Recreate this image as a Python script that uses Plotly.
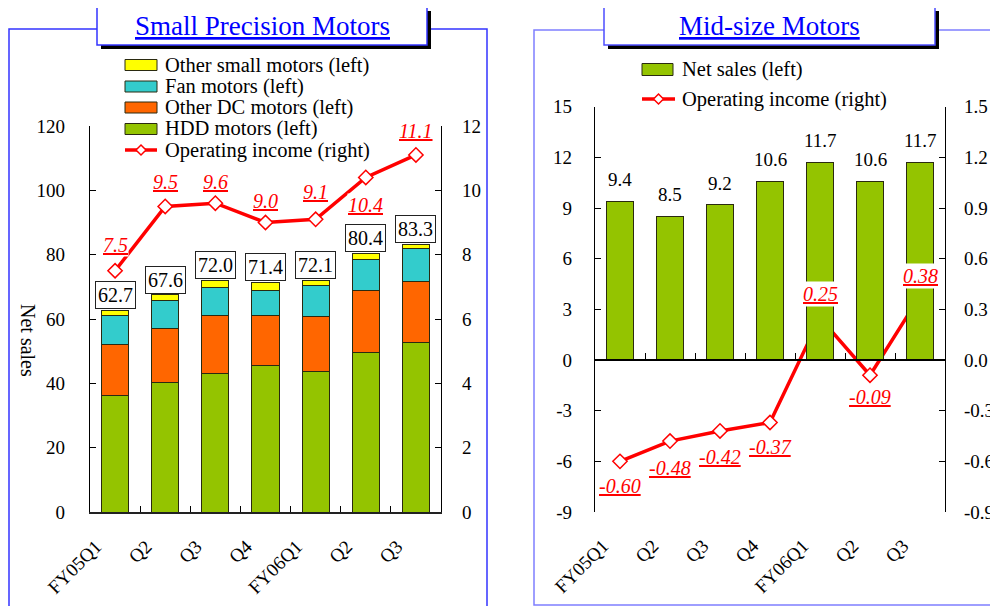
import plotly.graph_objects as go

# ---------------- data ----------------
categories = ["FY05Q1", "Q2", "Q3", "Q4", "FY06Q1", "Q2", "Q3"]
hdd_motors = [36.3, 40.3, 43.1, 45.4, 43.8, 49.5, 52.6]
other_dc_motors = [15.8, 16.8, 18.0, 15.8, 16.9, 19.3, 19.0]
fan_motors = [9.0, 8.7, 8.8, 7.7, 9.7, 9.8, 10.2]
other_small_motors = [1.6, 1.8, 2.1, 2.5, 1.7, 1.8, 1.5]
spm_total = [62.7, 67.6, 72.0, 71.4, 72.1, 80.4, 83.3]
spm_income = [7.5, 9.5, 9.6, 9.0, 9.1, 10.4, 11.1]
spm_income_labels = ["7.5", "9.5", "9.6", "9.0", "9.1", "10.4", "11.1"]

mid_sales = [9.4, 8.5, 9.2, 10.6, 11.7, 10.6, 11.7]
mid_income = [-0.60, -0.48, -0.42, -0.37, 0.25, -0.09, 0.38]
mid_income_labels = ["-0.60", "-0.48", "-0.42", "-0.37", "0.25", "-0.09", "0.38"]

spm_left_ticks = [0, 20, 40, 60, 80, 100, 120]
spm_right_ticks = [0, 2, 4, 6, 8, 10, 12]
mid_left_ticks = [-9, -6, -3, 0, 3, 6, 9, 12, 15]
mid_left_ticktext = ["-9", "-6", "-3", "0", "3", "6", "9", "12", "15"]
mid_right_ticks = [-0.9, -0.6, -0.3, 0.0, 0.3, 0.6, 0.9, 1.2, 1.5]
mid_right_ticktext = ["-0.9", "-0.6", "-0.3", "0.0", "0.3", "0.6", "0.9", "1.2", "1.5"]

# ---------------- helpers ----------------
OFF = 8                      # page body margin
W, H = 998 - OFF, 606 - OFF  # figure size so that it fits the window
FONT = "Liberation Serif, Times New Roman, serif"
idx = list(range(len(categories)))
bounds = [i + 0.5 for i in idx[:-1]]


def X(p):
    return (p - OFF) / W


def Y(p):
    return 1 - (p - OFF) / H


C_YEL = "#FFFF00"
C_CYAN = "#33CCCC"
C_ORANGE = "#FF6600"
C_GREEN = "#94C400"
OUTLINE = dict(color="#2a2a10", width=1)

fig = go.Figure()

# ---------------- left chart ----------------
for vals, name, col in [
    (hdd_motors, "HDD motors (left)", C_GREEN),
    (other_dc_motors, "Other DC motors (left)", C_ORANGE),
    (fan_motors, "Fan motors (left)", C_CYAN),
    (other_small_motors, "Other small motors (left)", C_YEL),
]:
    fig.add_trace(go.Bar(x=idx, y=vals, name=name, xaxis="x", yaxis="y",
                         marker=dict(color=col, line=OUTLINE), width=0.54,
                         showlegend=False))

fig.add_trace(go.Scatter(x=idx, y=spm_income, xaxis="x", yaxis="y2",
                         mode="lines+markers", name="Operating income (right)",
                         line=dict(color="#FF0000", width=3.5),
                         marker=dict(symbol="diamond", size=11, color="white",
                                     line=dict(color="#FF0000", width=1.5)),
                         cliponaxis=False, showlegend=False))

# ---------------- right chart ----------------
fig.add_trace(go.Bar(x=idx, y=mid_sales, name="Net sales (left)", xaxis="x4", yaxis="y3",
                     marker=dict(color=C_GREEN, line=OUTLINE), width=0.54,
                     showlegend=False))
fig.add_trace(go.Scatter(x=idx, y=mid_income, xaxis="x3", yaxis="y4",
                         mode="lines+markers", name="Operating income (right)",
                         line=dict(color="#FF0000", width=3.5),
                         marker=dict(symbol="diamond", size=11, color="white",
                                     line=dict(color="#FF0000", width=1.5)),
                         cliponaxis=False, showlegend=False))

tickfont = dict(family=FONT, size=19, color="black")
common_y = dict(ticks="inside", ticklen=6, tickcolor="black", showline=True,
                linecolor="black", linewidth=1.2, showgrid=False, zeroline=False,
                tickfont=tickfont, automargin=False)

annotations = []
shapes = []

# panel borders
shapes.append(dict(type="rect", xref="paper", yref="paper", x0=X(9), x1=X(487),
                   y0=Y(620), y1=Y(29), line=dict(color="#3333FF", width=1.5),
                   layer="below"))
shapes.append(dict(type="rect", xref="paper", yref="paper", x0=X(534), x1=X(1010),
                   y0=Y(605), y1=Y(30), line=dict(color="#7F7FFF", width=1.5),
                   layer="below"))

# title boxes
for (x0, x1, title, bcol) in [(97, 427, "Small Precision Motors", "#3333FF"),
                              (604, 935, "Mid-size Motors", "#4D4DFF")]:
    shapes.append(dict(type="rect", xref="paper", yref="paper", x0=X(x0 + 4), x1=X(x1 + 4),
                       y0=Y(49), y1=Y(11), fillcolor="black", line=dict(width=0),
                       layer="above"))
    shapes.append(dict(type="rect", xref="paper", yref="paper", x0=X(x0), x1=X(x1),
                       y0=Y(45), y1=Y(7), fillcolor="white",
                       line=dict(color=bcol, width=1.5), layer="above"))
    annotations.append(dict(xref="paper", yref="paper", x=X((x0 + x1) / 2), y=Y(26),
                            text="<u>" + title + "</u>", showarrow=False,
                            font=dict(family=FONT, size=27, color="#0000FF"),
                            xanchor="center", yanchor="middle"))

# left legend
leg_left = [("Other small motors (left)", C_YEL, 65),
            ("Fan motors (left)", C_CYAN, 86.5),
            ("Other DC motors (left)", C_ORANGE, 107.5),
            ("HDD motors (left)", C_GREEN, 129)]
for text, col, yc in leg_left:
    shapes.append(dict(type="rect", xref="paper", yref="paper", x0=X(125), x1=X(157),
                       y0=Y(yc + 5.5), y1=Y(yc - 5.5), fillcolor=col,
                       line=dict(color="#2a2a10", width=1), layer="above"))
    annotations.append(dict(xref="paper", yref="paper", x=X(163), y=Y(yc), text=text,
                            showarrow=False, xanchor="left", yanchor="middle",
                            font=dict(family=FONT, size=20.5, color="black")))


def line_symbol(xa, xb, yc):
    xm = (xa + xb) / 2
    shapes.append(dict(type="line", xref="paper", yref="paper", x0=X(xa), x1=X(xb),
                       y0=Y(yc), y1=Y(yc), line=dict(color="#FF0000", width=3.5),
                       layer="above"))
    d = 5
    path = (f"M {X(xm - d)} {Y(yc)} L {X(xm)} {Y(yc - d)} L {X(xm + d)} {Y(yc)} "
            f"L {X(xm)} {Y(yc + d)} Z")
    shapes.append(dict(type="path", xref="paper", yref="paper", path=path,
                       fillcolor="white", line=dict(color="#FF0000", width=1.5),
                       layer="above"))


line_symbol(125, 157, 150)
annotations.append(dict(xref="paper", yref="paper", x=X(163), y=Y(150),
                        text="Operating income (right)", showarrow=False,
                        xanchor="left", yanchor="middle",
                        font=dict(family=FONT, size=20.5, color="black")))

# right legend
shapes.append(dict(type="rect", xref="paper", yref="paper", x0=X(642), x1=X(673),
                   y0=Y(75.5), y1=Y(63.5), fillcolor=C_GREEN,
                   line=dict(color="#2a2a10", width=1), layer="above"))
annotations.append(dict(xref="paper", yref="paper", x=X(680), y=Y(69.5),
                        text="Net sales (left)", showarrow=False, xanchor="left",
                        yanchor="middle", font=dict(family=FONT, size=20.5, color="black")))
line_symbol(642, 675, 99)
annotations.append(dict(xref="paper", yref="paper", x=X(680), y=Y(99),
                        text="Operating income (right)", showarrow=False, xanchor="left",
                        yanchor="middle", font=dict(family=FONT, size=20.5, color="black")))

# y title
annotations.append(dict(xref="paper", yref="paper", x=X(28), y=Y(340), text="Net sales",
                        textangle=90, showarrow=False, xanchor="center", yanchor="middle",
                        font=dict(family=FONT, size=20, color="black")))

# left totals (boxed)
for i, t in zip(idx, spm_total):
    annotations.append(dict(xref="x", yref="y", x=i, y=t, text=f"{t:.1f}", showarrow=False,
                            yanchor="bottom", yshift=1, bgcolor="white",
                            bordercolor="#222", borderwidth=1, borderpad=2,
                            font=dict(family=FONT, size=20, color="black")))

# left income labels
left_shift = [26, 24, 21, 22, 27, -28, 24]
for i, v, lab, s in zip(idx, spm_income, spm_income_labels, left_shift):
    annotations.append(dict(xref="x", yref="y2", x=i, y=v, text=f"<i><u>{lab}</u></i>",
                            showarrow=False, yanchor="middle", yshift=s,
                            bgcolor="white", borderpad=0,
                            font=dict(family=FONT, size=20, color="#FF0000")))

# right sales labels
for i, v in zip(idx, mid_sales):
    annotations.append(dict(xref="x3", yref="y3", x=i, y=v, text=f"{v:.1f}",
                            showarrow=False, yanchor="bottom", yshift=9,
                            font=dict(family=FONT, size=19, color="black")))

# right income labels
right_shift = [-25, -27, -26, -24, 24, -22, 20]
for i, v, lab, s in zip(idx, mid_income, mid_income_labels, right_shift):
    annotations.append(dict(xref="x3", yref="y4", x=i, y=v, text=f"<i><u>{lab}</u></i>",
                            showarrow=False, yanchor="middle", yshift=s,
                            bgcolor="white", borderpad=1,
                            font=dict(family=FONT, size=20, color="#FF0000")))

fig.update_layout(
    width=W, height=H, margin=dict(l=0, r=0, t=0, b=0, pad=0, autoexpand=False),
    paper_bgcolor="white", plot_bgcolor="rgba(0,0,0,0)",
    barmode="stack", bargap=0.46, showlegend=False,
    font=dict(family=FONT, size=19, color="black"),
    xaxis=dict(domain=[X(90), X(441)], anchor="y", range=[-0.5, 6.5],
               tickmode="array", tickvals=idx, ticktext=categories, tickangle=-45,
               ticks="", showline=True, linecolor="#222", linewidth=1.8,
               showgrid=False, zeroline=False, tickfont=tickfont, automargin=False,
               ticklabelstandoff=14, ticklabelshift=-19,
               minor=dict(tickmode="array", tickvals=bounds, ticks="inside", ticklen=6,
                          tickcolor="black", showgrid=False)),
    yaxis=dict(domain=[Y(512), Y(126)], anchor="x", range=[0, 120],
               tickmode="array", tickvals=spm_left_ticks,
               ticklabelstandoff=20, **common_y),
    yaxis2=dict(overlaying="y", side="right", anchor="x", range=[0, 12],
                tickmode="array", tickvals=spm_right_ticks,
                ticklabelstandoff=16, **common_y),
    xaxis3=dict(domain=[X(595), X(945)], anchor="y3", range=[-0.5, 6.5],
                tickmode="array", tickvals=idx, ticktext=categories, tickangle=-45,
                ticks="", showline=False, showgrid=False, zeroline=False, automargin=False,
                tickfont=tickfont, ticklabelstandoff=18, ticklabelshift=-17),
    xaxis4=dict(overlaying="x3", anchor="free", position=Y(360), range=[-0.5, 6.5],
                tickmode="array", tickvals=bounds, ticks="inside", ticklen=6,
                tickcolor="black", showticklabels=False, showline=True, automargin=False,
                linecolor="black", linewidth=1.5, showgrid=False, zeroline=False),
    yaxis3=dict(domain=[Y(512), Y(106.7)], anchor="x3", range=[-9, 15],
                tickmode="array", tickvals=mid_left_ticks, ticktext=mid_left_ticktext,
                ticklabelstandoff=18, **common_y),
    yaxis4=dict(overlaying="y3", side="right", anchor="x3", range=[-0.9, 1.5],
                tickmode="array", tickvals=mid_right_ticks, ticktext=mid_right_ticktext,
                ticklabelstandoff=14, **common_y),
    annotations=annotations, shapes=shapes,
)

fig.write_html("out.html")
